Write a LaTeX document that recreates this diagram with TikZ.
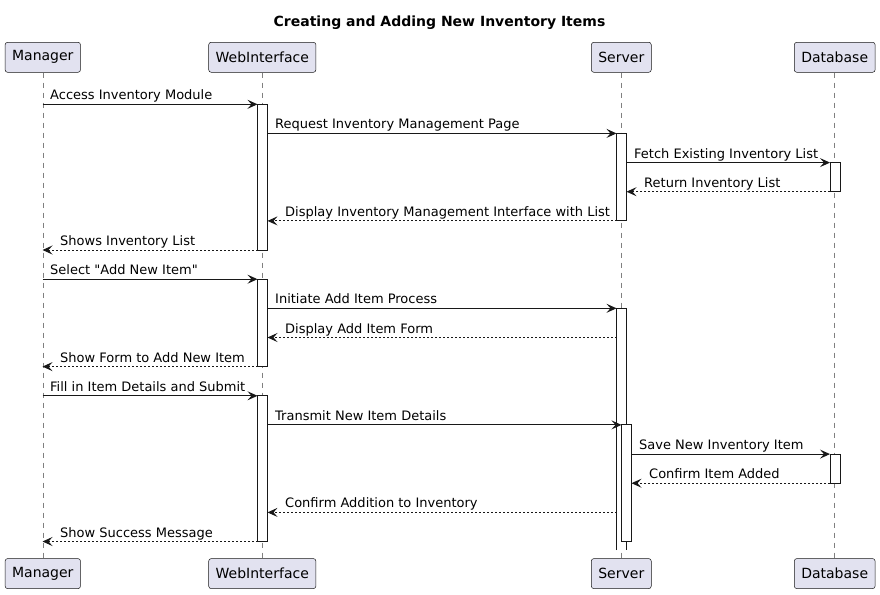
\documentclass[tikz,border=0pt]{standalone}
\usepackage{fontspec}
\setmainfont{DejaVu Sans}
\usetikzlibrary{arrows.meta}
\definecolor{ink}{HTML}{181818}
\definecolor{pfill}{HTML}{E2E2F0}
\newcommand\Msg[7]{%
  \coordinate (#1a) at (#4,#3);
  \coordinate (#1b) at (#5,#3);
  \draw[#2] (#1a) -- (#1b);
  \node[lbl] (#1t) at (#6,#3-4.5) {#7};}
\begin{document}
\begin{tikzpicture}[x=1pt,y=-1pt,
  part/.style={draw=ink, fill=pfill, rounded corners=2.5pt, line width=0.5pt,
    minimum height=30pt, inner xsep=7pt, inner ysep=0pt,
    font=\fontsize{14}{16}\selectfont, text=black},
  life/.style={draw=ink!55, line width=0.6pt, dash pattern=on 5pt off 5pt},
  actbox/.style={draw=ink, fill=white, line width=1pt},
  msg/.style={draw=ink, line width=1pt, -{Stealth[length=10pt,width=9pt,inset=4pt]}},
  ret/.style={msg, dash pattern=on 2pt off 2pt},
  lbl/.style={font=\fontsize{13}{15}\selectfont, anchor=base west, inner sep=0pt, text=black}]
\useasboundingbox (0,0) rectangle (880,594);
\fill[white] (0,0) rectangle (880,594);

\node[font=\bfseries\fontsize{14}{16}\selectfont, anchor=base] (title) at (439.5,27) {Creating and Adding New Inventory Items};

% participants
\node[part] (mT) at (42.8,57.3) {Manager};
\node[part] (wT) at (262.3,57.3) {WebInterface};
\node[part] (sT) at (621.3,57.3) {Server};
\node[part] (dT) at (834.7,57.3) {Database};
\node[part] (mB) at (42.8,573.6) {Manager};
\node[part] (wB) at (262.3,573.6) {WebInterface};
\node[part] (sB) at (621.3,573.6) {Server};
\node[part] (dB) at (834.7,573.6) {Database};

% lifelines
\draw[life] (mT.south) -- (mB.north);
\draw[life] (wT.south) -- (wB.north);
\draw[life] (sT.south) -- (sB.north);
\draw[life] (dT.south) -- (dB.north);

% activations
\draw[actbox] (257.5,104.3) rectangle (267.5,250);
\draw[actbox] (257.5,279.2) rectangle (267.5,366.6);
\draw[actbox] (257.5,395.8) rectangle (267.5,541.5);
\draw[actbox] (616.5,133.4) rectangle (626.5,220.9);
\fill[white] (616.5,308.3) rectangle (626.5,550);
\draw[ink, line width=1pt] (616.5,550) -- (616.5,308.3) -- (626.5,308.3) -- (626.5,550);
\draw[actbox] (621.5,424.9) rectangle (631.5,541.5);
\draw[actbox] (830,162.6) rectangle (840,191.7);
\draw[actbox] (830,454.1) rectangle (840,483.2);

% messages
\Msg{m1}{msg}{104.3}{42.5}{257.5}{50}{Access Inventory Module}
\Msg{m2}{msg}{133.4}{267.5}{616.5}{275}{Request Inventory Management Page}
\Msg{m3}{msg}{162.6}{626.5}{830}{634}{Fetch Existing Inventory List}
\Msg{m4}{ret}{191.7}{830}{626.5}{644}{Return Inventory List}
\Msg{m5}{ret}{220.9}{616.5}{267.5}{285}{Display Inventory Management Interface with List}
\Msg{m6}{ret}{250}{257.5}{42.5}{60}{Shows Inventory List}
\Msg{m7}{msg}{279.2}{42.5}{257.5}{50}{Select \textquotedbl Add New Item\textquotedbl}
\Msg{m8}{msg}{308.3}{267.5}{616.5}{275}{Initiate Add Item Process}
\Msg{m9}{ret}{337.5}{616.5}{267.5}{285}{Display Add Item Form}
\Msg{m10}{ret}{366.6}{257.5}{42.5}{60}{Show Form to Add New Item}
\Msg{m11}{msg}{395.8}{42.5}{257.5}{50}{Fill in Item Details and Submit}
\Msg{m12}{msg}{424.9}{267.5}{621.5}{275}{Transmit New Item Details}
\Msg{m13}{msg}{454.1}{631.5}{830}{639}{Save New Inventory Item}
\Msg{m14}{ret}{483.2}{830}{631.5}{649}{Confirm Item Added}
\Msg{m15}{ret}{512.4}{616.5}{267.5}{285}{Confirm Addition to Inventory}
\Msg{m16}{ret}{541.5}{257.5}{42.5}{60}{Show Success Message}
\end{tikzpicture}
\end{document}
